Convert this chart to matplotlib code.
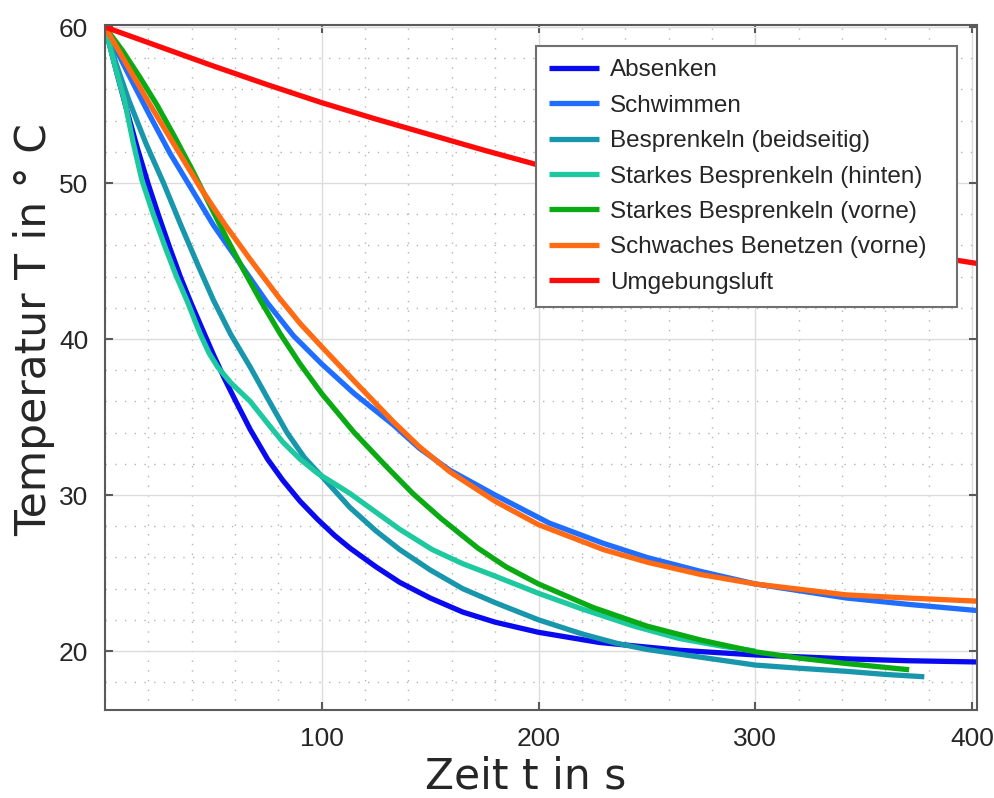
import matplotlib
matplotlib.use('Agg')
import matplotlib.pyplot as plt
from matplotlib.ticker import MultipleLocator

plt.rcParams['font.family'] = ['Liberation Sans', 'DejaVu Sans']

# Absenken
t_absenken = [0, 5, 10, 15, 20, 25, 30, 35, 40, 45, 50, 55, 60, 67, 75, 82, 90, 98, 106,
              113, 125, 136, 150, 165, 180, 200, 228, 265, 300, 342, 370, 402]
T_absenken = [60, 57.3, 54.7, 52.2, 49.9, 47.8, 45.8, 43.9, 42.2, 40.6, 39.0, 37.5, 36.1,
              34.2, 32.3, 30.95, 29.6, 28.45, 27.4, 26.6, 25.4, 24.4, 23.4, 22.5, 21.85,
              21.2, 20.55, 20.05, 19.75, 19.5, 19.38, 19.3]

# Schwimmen
t_schwimmen = [0, 10, 20, 30, 40, 50, 61, 67, 75, 87, 100, 115, 133, 145, 159, 180, 205,
               230, 250, 275, 300, 342, 370, 402]
T_schwimmen = [60, 57.2, 54.5, 51.9, 49.6, 47.3, 45.1, 43.9, 42.3, 40.2, 38.4, 36.5, 34.5,
               33.0, 31.6, 30.0, 28.2, 26.9, 26.0, 25.1, 24.3, 23.4, 23.0, 22.6]

# Besprenkeln (beidseitig)
t_beidseitig = [0, 5, 11, 19, 27, 35, 43, 50, 58, 67, 75, 84, 92, 100, 113, 125, 136, 150,
                165, 180, 200, 220, 236, 250, 265, 285, 300, 320, 342, 360, 378]
T_beidseitig = [60, 57.7, 55.3, 52.5, 50.0, 47.3, 44.7, 42.5, 40.3, 38.2, 36.2, 34.0, 32.4,
                31.2, 29.2, 27.7, 26.5, 25.2, 24.0, 23.1, 22.0, 21.1, 20.5, 20.1, 19.8, 19.4,
                19.1, 18.9, 18.7, 18.5, 18.35]

# Starkes Besprenkeln (hinten)
t_hinten = [0, 4, 9, 13, 17, 22, 28, 33, 38, 44, 48, 52, 58, 67, 75, 82, 90, 98, 105, 113,
            125, 136, 151, 165, 180, 200, 220, 244, 265, 285, 300]
T_hinten = [60, 57.8, 55.3, 52.6, 50.2, 48.1, 45.8, 44.0, 42.4, 40.3, 39.1, 38.2, 37.2,
            36.0, 34.6, 33.4, 32.3, 31.4, 30.8, 30.1, 28.9, 27.8, 26.5, 25.6, 24.8, 23.7,
            22.7, 21.6, 20.8, 20.3, 20.0]

# Starkes Besprenkeln (vorne)
t_vorne = [0, 8, 16, 24, 32, 40, 48, 56, 64, 72, 81, 90, 100, 115, 130, 142, 155, 172,
           185, 200, 225, 250, 275, 300, 320, 342, 371]
T_vorne = [60, 58.5, 56.8, 55.0, 53.0, 50.9, 48.7, 46.5, 44.4, 42.4, 40.3, 38.4, 36.5,
           34.0, 31.8, 30.1, 28.5, 26.6, 25.4, 24.3, 22.8, 21.6, 20.7, 19.95, 19.55, 19.2,
           18.8]

# Schwaches Benetzen (vorne)
t_benetzen = [0, 10, 20, 30, 44, 55, 67, 80, 90, 100, 115, 133, 145, 159, 180, 200, 230,
              250, 275, 300, 342, 370, 402]
T_benetzen = [60, 57.6, 55.2, 52.9, 49.7, 47.4, 45.1, 42.7, 41.0, 39.5, 37.3, 34.7, 33.1,
              31.5, 29.6, 28.1, 26.5, 25.7, 24.9, 24.3, 23.6, 23.4, 23.2]

# Umgebungsluft
t_luft = [0, 25, 50, 75, 100, 125, 150, 175, 200, 250, 300, 350, 393, 402]
T_luft = [60, 58.75, 57.5, 56.3, 55.15, 54.1, 53.1, 52.1, 51.15, 49.35, 47.7, 46.2, 45.05,
          44.85]

series = [
    ('Absenken', t_absenken, T_absenken, '#0a0af0'),
    ('Schwimmen', t_schwimmen, T_schwimmen, '#1f6eff'),
    ('Besprenkeln (beidseitig)', t_beidseitig, T_beidseitig, '#1896ac'),
    ('Starkes Besprenkeln (hinten)', t_hinten, T_hinten, '#1ec9a0'),
    ('Starkes Besprenkeln (vorne)', t_vorne, T_vorne, '#0aaa14'),
    ('Schwaches Benetzen (vorne)', t_benetzen, T_benetzen, '#ff6a12'),
    ('Umgebungsluft', t_luft, T_luft, '#ff0a0a'),
]

fig = plt.figure(figsize=(9.95, 7.98), dpi=100)
ax = fig.add_axes([105 / 995, 88 / 798, 872 / 995, 685 / 798])

for label, t, T, color in series:
    ax.plot(t, T, color=color, linewidth=3.8, label=label, solid_capstyle='butt',
            solid_joinstyle='round')

ax.set_xlim(0, 402.3)
ax.set_ylim(16.22, 60.13)
ax.set_xticks([100, 200, 300, 400])
ax.set_yticks([20, 30, 40, 50, 60])
ax.xaxis.set_minor_locator(MultipleLocator(20))
ax.yaxis.set_minor_locator(MultipleLocator(2))

ax.grid(True, which='major', color='#dcdcdc', linewidth=1.0, linestyle='-')
ax.grid(True, which='minor', color='#b4b4b4', linewidth=1.0, linestyle=(0, (1, 6)))
ax.set_axisbelow(True)

for spine in ax.spines.values():
    spine.set_color('#5a5a5a')
    spine.set_linewidth(1.5)

ax.tick_params(which='major', direction='in', length=6, width=1.5, color='#5a5a5a',
               top=True, right=True, labelsize=19, labelcolor='#262626', pad=12)
ax.tick_params(which='minor', length=0)

ax.set_xlabel('Zeit t in s', fontsize=30.5, color='#262626', family='DejaVu Sans')
ax.set_ylabel('Temperatur T in ° C', fontsize=30.5, color='#262626', family='DejaVu Sans')
ax.xaxis.label.set_va('baseline')
ax.yaxis.label.set_va('baseline')
ax.xaxis.set_label_coords(0.482, -0.114)
ax.yaxis.set_label_coords(-0.067, 0.556)

# legend box spans the reference frame; expand mode leaves the spare room on the right
leg = ax.legend(loc='upper left',
                bbox_to_anchor=(536 / 995, 496 / 798, 421 / 995, 256 / 798),
                bbox_transform=fig.transFigure, borderaxespad=0, mode='expand',
                fontsize=17.5, fancybox=False, framealpha=1, edgecolor='#707070',
                handlelength=2.05, handletextpad=0.45, labelspacing=0.55, borderpad=0.55)
leg.get_frame().set_linewidth(1.5)
for text in leg.get_texts():
    text.set_color('#262626')

fig.savefig('out.png', dpi=100)
